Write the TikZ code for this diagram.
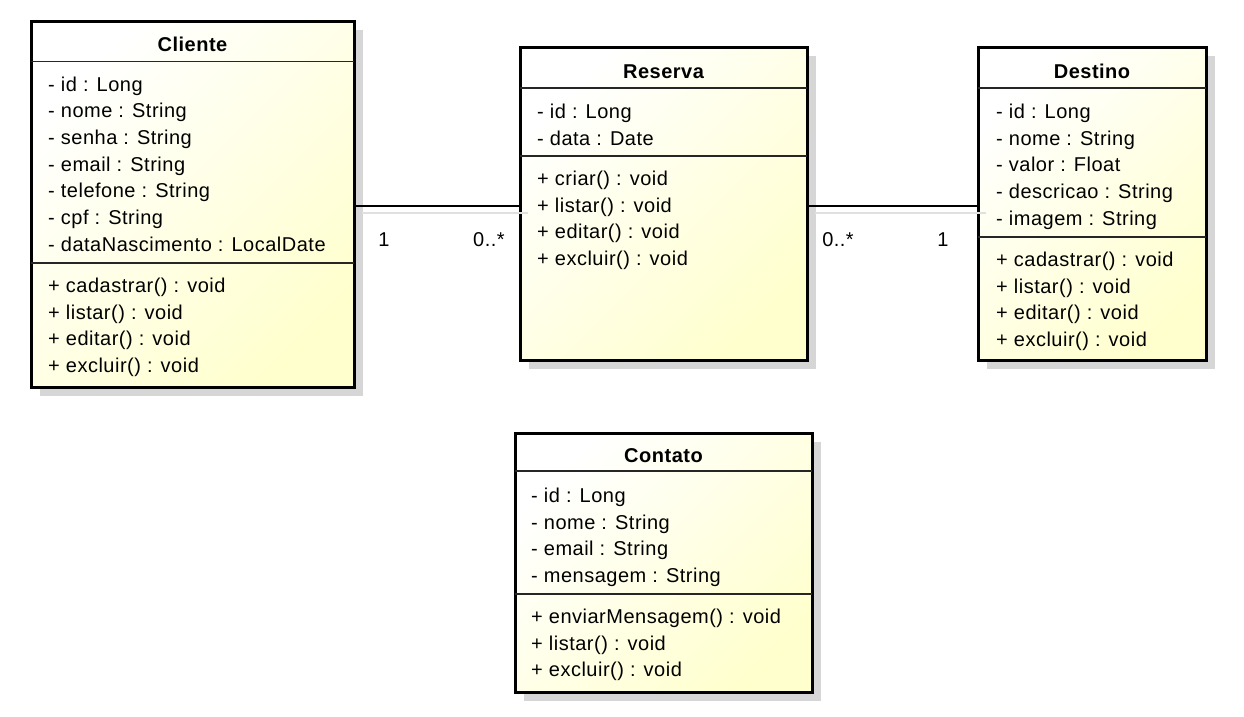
\documentclass[tikz,border=0pt]{standalone}
\usepackage{fontspec}
\setmainfont{Liberation Sans}[LetterSpace=2.5]
\usetikzlibrary{positioning,shadows}
\definecolor{classyellow}{RGB}{255,255,206}
\definecolor{shadowgray}{RGB}{214,214,214}
\tikzset{
  umlclass/.style={rectangle, draw=black, line width=3pt, inner sep=0pt, outer sep=0pt,
    top color=white, bottom color=classyellow, shading angle=45,
    general shadow={fill=shadowgray, draw=none, shadow xshift=9pt, shadow yshift=-9pt}},
  classname/.style={font=\fontsize{20}{24}\selectfont\bfseries, anchor=base, inner sep=0pt},
  member/.style={anchor=base west, inner sep=0pt},
  sepline/.style={line width=1.2pt, draw=black!85},
  assoc/.style={line width=1.2pt, preaction={draw=black!12, line width=1.2pt, transform canvas={shift={(8pt,-7pt)}}}},
  mult/.style={anchor=base, inner sep=0pt}
}

\begin{document}
\begin{tikzpicture}[x=1pt, y=-1pt, font=\fontsize{20}{24}\selectfont]
\useasboundingbox (0,0) rectangle (1244,716);

% classes
\node (cliente) [umlclass, minimum width=323pt, minimum height=366pt] at (192.5,204) {};
\node (reserva) [umlclass, minimum width=287pt, minimum height=313pt] at (663.5,203.5) {};
\node (destino) [umlclass, minimum width=228pt, minimum height=313pt] at (1092,203.5) {};
\node (contato) [umlclass, minimum width=297pt, minimum height=259pt] at (663.5,562.5) {};

% Cliente
\node (cli-name) [classname] at (cliente.center |- 0,51) {Cliente};
\draw [sepline] (cliente.west |- 0,61.7) -- (cliente.east |- 0,61.7);
\foreach \txt [count=\i] in {- id : Long, - nome : String, - senha : String, - email : String,
  - telefone : String, - cpf : String, - dataNascimento : LocalDate}
  \node (cli-at\i) [member] at (48,{91+26.67*(\i-1)}) {\txt};
\draw [sepline] (cliente.west |- 0,263) -- (cliente.east |- 0,263);
\foreach \txt [count=\i] in {+ cadastrar() : void, + listar() : void, + editar() : void, + excluir() : void}
  \node (cli-op\i) [member] at (48,{292.5+26.67*(\i-1)}) {\txt};

% Reserva
\node (res-name) [classname] at (reserva.center |- 0,78) {Reserva};
\draw [sepline] (reserva.west |- 0,88) -- (reserva.east |- 0,88);
\foreach \txt [count=\i] in {- id : Long, - data : Date}
  \node (res-at\i) [member] at (537,{118.5+26.67*(\i-1)}) {\txt};
\draw [sepline] (reserva.west |- 0,156) -- (reserva.east |- 0,156);
\foreach \txt [count=\i] in {+ criar() : void, + listar() : void, + editar() : void, + excluir() : void}
  \node (res-op\i) [member] at (537,{185.5+26.67*(\i-1)}) {\txt};

% Destino
\node (des-name) [classname] at (destino.center |- 0,78) {Destino};
\draw [sepline] (destino.west |- 0,88) -- (destino.east |- 0,88);
\foreach \txt [count=\i] in {- id : Long, - nome : String, - valor : Float, - descricao : String, - imagem : String}
  \node (des-at\i) [member] at (996,{118.5+26.67*(\i-1)}) {\txt};
\draw [sepline] (destino.west |- 0,237) -- (destino.east |- 0,237);
\foreach \txt [count=\i] in {+ cadastrar() : void, + listar() : void, + editar() : void, + excluir() : void}
  \node (des-op\i) [member] at (996,{266.5+26.67*(\i-1)}) {\txt};

% Contato
\node (con-name) [classname] at (contato.center |- 0,462) {Contato};
\draw [sepline] (contato.west |- 0,471) -- (contato.east |- 0,471);
\foreach \txt [count=\i] in {- id : Long, - nome : String, - email : String, - mensagem : String}
  \node (con-at\i) [member] at (531,{502.5+26.67*(\i-1)}) {\txt};
\draw [sepline] (contato.west |- 0,594) -- (contato.east |- 0,594);
\foreach \txt [count=\i] in {+ enviarMensagem() : void, + listar() : void, + excluir() : void}
  \node (con-op\i) [member] at (531,{623.5+26.67*(\i-1)}) {\txt};

% associations
\draw [assoc] (cliente.east |- 0,206) -- (reserva.west |- 0,206);
\draw [assoc] (reserva.east |- 0,206) -- (destino.west |- 0,206);

\node (m-cli) [mult] at (384,246) {1};
\node (m-res1) [mult] at (489,246) {0..*};
\node (m-res2) [mult] at (838,246) {0..*};
\node (m-des) [mult] at (943,246) {1};

\end{tikzpicture}
\end{document}
